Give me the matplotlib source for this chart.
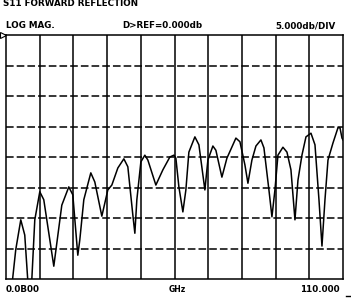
import matplotlib
matplotlib.use('Agg')
import matplotlib.pyplot as plt

# S11 trace (GHz, dB)
freq_ghz = [0.08, 2.19, 3.26, 4.90, 6.20, 7.18, 7.83, 8.49, 9.47, 11.10,
            12.40, 15.67, 18.28, 20.56, 21.87, 23.50, 24.15, 25.46, 27.74,
            29.05, 31.34, 33.29, 34.60, 36.56, 38.52, 39.82, 41.45, 42.11,
            42.76, 44.07, 45.37, 46.35, 48.96, 51.25, 53.53, 54.84, 55.49,
            56.47, 57.77, 58.75, 59.73, 61.69, 63.00, 64.95, 65.93, 67.56,
            68.54, 70.50, 72.13, 75.07, 76.38, 78.01, 78.99, 80.29, 81.60,
            83.23, 84.21, 85.84, 86.82, 87.80, 88.78, 90.41, 91.72, 93.02,
            94.33, 95.31, 96.61, 97.92, 99.55, 100.86, 102.16, 103.14,
            104.12, 105.10, 106.73, 108.36, 109.01, 109.67, 110.0]
s11_db = [-44.0, -40.2, -35.2, -30.3, -32.8, -40.2, -41.8, -40.2, -30.3,
          -25.7, -27.0, -37.9, -27.9, -24.9, -26.2, -36.1, -33.6, -27.0,
          -22.6, -24.1, -29.7, -25.4, -24.6, -21.8, -20.3, -21.6, -29.5,
          -32.5, -27.0, -20.8, -19.7, -20.5, -24.6, -22.1, -20.0, -19.7,
          -20.2, -24.9, -29.0, -25.4, -19.2, -16.7, -18.0, -25.4, -20.5,
          -18.2, -18.9, -23.3, -20.2, -16.9, -17.5, -21.3, -24.3, -20.5,
          -18.2, -17.2, -18.5, -25.4, -29.8, -25.4, -19.7, -18.4, -19.2,
          -22.1, -30.3, -23.8, -19.7, -16.7, -16.1, -18.0, -27.0, -34.6,
          -27.0, -20.5, -17.7, -15.2, -15.2, -16.9, -17.2]

f_start, f_stop = 0.08, 110.0
ref_db, db_per_div, n_ydiv, n_xdiv = 0.0, 5.0, 8, 10

W, H = 351, 300
fig = plt.figure(figsize=(W / 100, H / 100), dpi=100)
ax = fig.add_axes([6 / W, 21 / H, 337 / W, 244 / H])

ax.plot(freq_ghz, s11_db, color='black', lw=1.1)
ax.set_xlim(f_start, f_stop)
ax.set_ylim(ref_db - n_ydiv * db_per_div, ref_db)

# graticule: solid verticals, dashed horizontals
step_x = (f_stop - f_start) / n_xdiv
for i in range(1, n_xdiv):
    ax.axvline(f_start + i * step_x, color='black', lw=1.1)
for j in range(1, n_ydiv):
    ax.axhline(ref_db - j * db_per_div, color='black', lw=1.1,
               dashes=(5, 2))

ax.set_xticks([])
ax.set_yticks([])
for s in ax.spines.values():
    s.set_linewidth(1.1)

# reference marker
ax.plot([-0.008], [1.0], marker='>', ms=4, mfc='white', mec='black',
        mew=0.8, transform=ax.transAxes, clip_on=False)


def px_text(x, y, s, size=6.3, ha='left'):
    fig.text(x / W, 1 - y / H, s, ha=ha, va='center', fontsize=size,
             fontweight='bold', family='DejaVu Sans')


px_text(3, 3.5, 'S11 FORWARD REFLECTION')
px_text(6, 26, 'LOG MAG.')
px_text(122, 26, 'D>REF=0.000db')
px_text(336, 26, '5.000db/DIV', ha='right')
px_text(6, 289, '0.0B00')
px_text(177, 290, 'GHz', size=5.5, ha='center')
px_text(340, 289, '110.000', ha='right')

fig.add_artist(plt.Line2D([346 / W, 351 / W], [1 - 296 / H, 1 - 296 / H],
                          color='black', lw=1.0))

fig.savefig('out.png', dpi=100)
